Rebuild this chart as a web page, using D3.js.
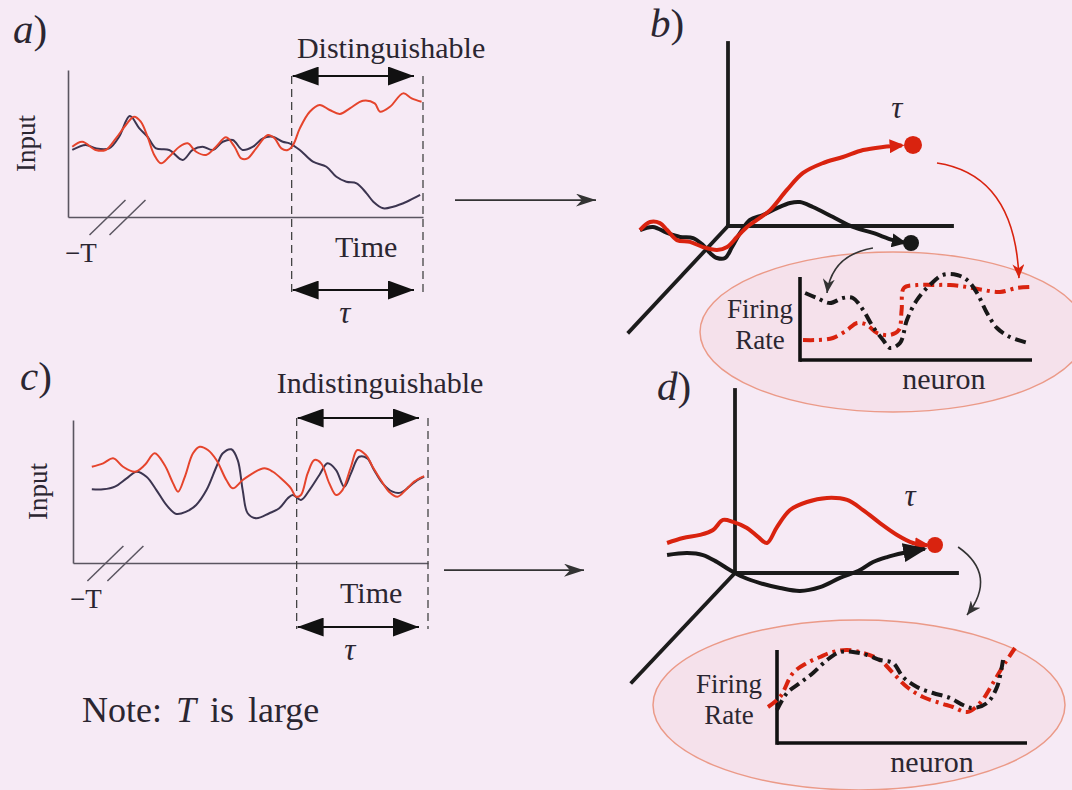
<!DOCTYPE html>
<html>
<head>
<meta charset="utf-8">
<script src="https://cdn.jsdelivr.net/npm/d3@7"></script>
<style>
  html, body { margin: 0; padding: 0; background: #f6eaf5; }
  svg { display: block; }
  text { font-family: "Liberation Serif", "DejaVu Serif", serif; fill: #2b2631; }
</style>
</head>
<body>
<svg id="fig" width="1072" height="790"></svg>
<script>
// ---------------- data ----------------
// Input traces (time, input), both panels share the 0..100 scale
const aRed = [[1.2,47.8],[4.0,51.2],[7.8,45.6],[10.6,45.6],[13.5,53.5],[16.3,62.6],[18.6,68.2],[20.5,64.8],[22.4,54.6],[24.3,42.2],[26.2,36.5],[28.5,41.0],[31.4,47.8],[33.7,50.1],[36.1,44.4],[38.9,42.2],[41.7,47.8],[44.5,54.2],[46.9,47.8],[48.8,39.9],[50.6,39.9],[53.0,46.7],[56.3,55.8],[58.2,53.5],[60.1,46.7],[61.9,45.6],[63.4,49.0],[65.3,60.3],[68.1,71.6],[70.9,76.2],[73.7,72.8],[76.6,70.1],[79.4,73.9],[83.1,79.1],[86.4,77.3],[87.9,71.6],[90.7,75.0],[94.4,84.1],[96.8,80.7],[99.6,78.4]];
const aDark = [[1.2,45.6],[5.0,49.0],[7.8,46.7],[11.6,46.7],[14.4,54.6],[17.4,68.7],[20.1,60.3],[22.4,54.6],[24.8,46.7],[28.5,45.6],[32.3,38.8],[35.1,45.6],[37.9,47.8],[40.8,45.6],[43.6,51.2],[46.4,52.4],[49.2,45.6],[52.1,47.8],[54.9,53.5],[57.7,54.6],[60.5,51.2],[62.4,50.1],[65.3,45.6],[69.0,37.6],[72.8,34.2],[75.6,27.4],[78.4,24.0],[81.3,22.9],[84.1,16.1],[86.0,10.4],[88.8,5.9],[91.6,7.0],[95.4,10.4],[99.2,15.0]];
const cRed = [[5.3,67.3],[8.5,69.7],[11.3,73.2],[14.1,67.3],[17.4,63.8],[20.2,68.5],[23.0,76.7],[25.8,68.5],[28.2,55.7],[29.6,49.9],[31.5,60.3],[33.8,76.7],[35.7,81.3],[38.0,79.0],[40.4,72.0],[43.2,58.0],[45.0,52.2],[47.8,58.0],[50.6,62.7],[53.9,66.2],[56.3,63.8],[59.1,58.0],[61.4,52.2],[62.8,46.4],[64.2,47.6],[66.1,62.7],[68.0,72.0],[69.9,69.7],[72.2,55.7],[74.1,47.6],[75.9,51.0],[78.3,67.3],[80.1,79.0],[82.5,75.5],[84.4,67.3],[86.7,58.0],[89.0,49.9],[91.4,46.4],[93.7,51.0],[96.1,56.9],[98.9,60.8]];
const cDark = [[5.3,51.5],[8.5,51.5],[11.8,53.4],[15.1,59.2],[17.9,63.8],[20.7,60.3],[23.5,51.0],[26.3,40.6],[29.1,34.3],[31.9,35.9],[34.7,40.6],[37.6,51.0],[40.4,67.3],[42.2,76.7],[44.6,79.5],[46.4,72.0],[47.8,51.0],[49.2,34.8],[51.6,31.3],[55.3,34.8],[58.1,38.3],[60.5,45.2],[61.9,47.6],[64.2,44.1],[66.6,51.0],[69.4,61.5],[71.7,69.7],[74.1,65.0],[76.4,53.4],[78.3,62.7],[80.6,74.3],[82.9,73.2],[84.8,65.0],[87.2,55.7],[90.0,49.9],[92.3,49.2],[94.7,53.4],[97.0,58.0],[98.9,60.3]];
const windowStart = 63;   // start of the tau window (time units)
const windowEnd = 100;

// State-space trajectories (x, y) and end points
const bTrajRed = [[-39.3,-2.2],[-34.8,2.2],[-30.4,1.6],[-27.2,-2.2],[-22.8,-7.7],[-17.0,-8.7],[-11.2,-11.5],[-4.9,-13.1],[-0.4,-11.5],[4.0,-6.0],[8.5,-0.5],[12.9,3.3],[18.8,8.7],[26.3,19.7],[33.5,29.0],[42.4,34.4],[51.3,37.7],[60.3,41.5],[69.2,43.2],[77.5,44.0]];
const bTrajBlack = [[-39.3,-2.2],[-33.5,-0.5],[-27.2,-3.8],[-21.4,-6.0],[-15.6,-6.6],[-11.2,-10.4],[-8.0,-14.8],[-4.9,-17.5],[-1.3,-17.5],[1.8,-11.5],[5.4,-3.8],[9.8,3.3],[15.6,6.0],[21.9,9.8],[27.7,12.6],[32.1,13.1],[37.9,10.4],[46.9,4.9],[55.8,-0.5],[64.7,-3.8],[73.7,-7.7],[78.5,-9.0]];
const bEndRed = [82.6, 44.3];
const bEndBlack = [81.7, -9.3];
const dTrajRed = [[-30.6,16.4],[-23.4,19.1],[-15.8,20.8],[-9.9,23.5],[-5.4,29.0],[-0.9,27.9],[5.4,24.6],[10.4,19.7],[14.4,16.4],[18.9,25.1],[24.8,34.4],[32.4,38.8],[41.4,41.0],[50.5,39.9],[57.7,34.4],[65.3,27.3],[73.0,20.8],[80.2,16.4],[86.5,15.2]];
const dTrajBlack = [[-30.6,9.8],[-21.6,10.9],[-14.4,9.8],[-8.1,6.0],[-2.3,1.6],[3.6,-2.2],[11.3,-5.5],[20.3,-8.2],[29.3,-9.8],[38.3,-7.7],[47.3,-2.7],[56.3,1.6],[62.2,6.0],[68.5,8.7],[75.7,10.9],[85.5,13.2]];
const dEndRed = [90.1, 15.3];

// Population firing rates (neuron, rate)
const bRateBlack = [[2.2,67],[7.3,62],[12.9,57],[18.5,62],[22.8,62],[27.2,50],[31.5,33],[35.8,20],[38.8,12],[43.1,17],[46.1,40],[50.4,60],[56.0,75],[61.6,85],[67.7,85],[72.0,80],[76.3,67],[80.6,47],[84.9,32],[90.5,23],[98.3,17]];
const bRateRed = [[1.3,20],[7.3,20],[14.2,22],[20.3,30],[24.6,37],[28.9,35],[33.2,27],[38.8,25],[42.6,30],[43.8,50],[44.8,72],[50.4,75],[57.3,75],[64.7,75],[72.0,73],[78.9,70],[86.2,68],[93.5,72],[99.6,73]];
const dRateBlack = [[0,33],[4,50],[9.2,60],[14.4,70],[20,83],[25.2,91],[30.4,91],[36,88],[41.2,83],[46.4,80],[50.4,66],[56,56],[62.4,50],[69.2,45],[74.4,38],[78.4,35],[84,40],[88,56],[90.4,83]];
const dRateRed = [[-3.6,36],[1.2,46],[6.4,70],[12,80],[17.2,86],[22.4,91],[28,93],[34.4,90],[41.2,83],[46.4,70],[52,56],[58.4,46],[65.2,40],[70.4,36],[76,31],[81.2,40],[86.4,60],[91.2,80],[95.2,95]];

// Text
const panelLetters = ["a", "b", "c", "d"];
const windowTitles = ["Distinguishable", "Indistinguishable"];
const axisTitleY = "Input";
const axisTitleX = "Time";
const startLabel = "\u2212T";
const tauLabel = "\u03C4";
const rateTitle = ["Firing", "Rate"];
const neuronTitle = "neuron";

// ---------------- styles ----------------
const RED = "#e5442c";
const DARK = "#3c3550";
const TRAJ_RED = "#d9230f";
const TRAJ_BLACK = "#181818";
const AXIS_GREY = "#5a5560";

const svg = d3.select("#fig");
const defs = svg.append("defs");

function addMarker(id, color, w, h, shape, refX) {
  defs.append("marker")
    .attr("id", id)
    .attr("viewBox", "0 0 10 10")
    .attr("preserveAspectRatio", "none")
    .attr("refX", refX).attr("refY", 5)
    .attr("markerUnits", "userSpaceOnUse")
    .attr("markerWidth", w).attr("markerHeight", h)
    .attr("orient", "auto-start-reverse")
    .append("path").attr("d", shape).attr("fill", color);
}
const TRI = "M0,0L10,5L0,10Z";
const STEALTH = "M0,0L10,5L0,10L3,5Z";
addMarker("bigHead", "#111", 26, 19, TRI, 10);
addMarker("thinHead", "#333", 20, 13, STEALTH, 10);
addMarker("redHead", TRAJ_RED, 15, 14, TRI, 8);
addMarker("blackHead", TRAJ_BLACK, 15, 14, TRI, 8);
addMarker("blackHeadBig", TRAJ_BLACK, 24, 19, TRI, 9);
addMarker("curveRed", TRAJ_RED, 14, 12, STEALTH, 10);
addMarker("curveDark", "#333", 14, 12, STEALTH, 10);

function panelLetter(x, y, letter) {
  const t = svg.append("text").attr("x", x).attr("y", y).attr("font-size", 41);
  t.append("tspan").attr("font-style", "italic").text(letter);
  t.append("tspan").text(")");
}

// ---------------- input panels (a, c) ----------------
function inputPanel(cfg) {
  const g = svg.append("g");
  const x = d3.scaleLinear().domain([0, 100]).range(cfg.xRange);
  const y = d3.scaleLinear().domain([0, 100]).range(cfg.yRange);

  g.append("g").attr("transform", `translate(0,${y(0)})`)
    .call(d3.axisBottom(x).tickValues([]).tickSizeOuter(0))
    .select(".domain").attr("stroke", AXIS_GREY).attr("stroke-width", 1.6);
  g.append("g").attr("transform", `translate(${x(0)},0)`)
    .call(d3.axisLeft(y).tickValues([]).tickSizeOuter(0))
    .select(".domain").attr("stroke", AXIS_GREY).attr("stroke-width", 1.6);

  // axis break marks
  [0, 1].forEach(i => {
    const bx = x(cfg.breakAt) + i * 20;
    g.append("line")
      .attr("x1", bx - 14).attr("y1", y(0) + 18)
      .attr("x2", bx + 22).attr("y2", y(0) - 17)
      .attr("stroke", AXIS_GREY).attr("stroke-width", 1.5);
  });

  // tau window
  [windowStart, windowEnd].forEach(t => {
    g.append("line")
      .attr("x1", x(t)).attr("x2", x(t))
      .attr("y1", cfg.topArrowY).attr("y2", cfg.bottomArrowY + 2)
      .attr("stroke", "#444").attr("stroke-width", 1.3)
      .attr("stroke-dasharray", "8,5");
  });
  [cfg.topArrowY, cfg.bottomArrowY].forEach(ay => {
    g.append("line")
      .attr("x1", x(windowStart) + 1).attr("x2", x(windowEnd) - 9)
      .attr("y1", ay).attr("y2", ay)
      .attr("stroke", "#111").attr("stroke-width", 2)
      .attr("marker-start", "url(#bigHead)").attr("marker-end", "url(#bigHead)");
  });

  const line = d3.line().x(d => x(d[0])).y(d => y(d[1])).curve(d3.curveCatmullRom.alpha(0.5));
  g.append("path").datum(cfg.dark).attr("d", line)
    .attr("fill", "none").attr("stroke", DARK).attr("stroke-width", 2);
  g.append("path").datum(cfg.red).attr("d", line)
    .attr("fill", "none").attr("stroke", RED).attr("stroke-width", 2);

  // labels
  g.append("text").attr("x", x(cfg.titleAt)).attr("y", cfg.titleY)
    .attr("text-anchor", "middle").attr("font-size", 30).text(cfg.title);
  g.append("text").attr("x", x(84)).attr("y", y(0) + 40)
    .attr("text-anchor", "middle").attr("font-size", 30).text(axisTitleX);
  g.append("text").attr("x", x(0) - 3).attr("y", y(0) + 45)
    .attr("font-size", 27).text(startLabel);
  g.append("text").attr("x", x(78)).attr("y", cfg.bottomArrowY + 33)
    .attr("text-anchor", "middle").attr("font-size", 31).attr("font-style", "italic").text(tauLabel);
  g.append("text")
    .attr("transform", `translate(${x(0) - cfg.inputOffset},${y(50)}) rotate(-90)`)
    .attr("text-anchor", "middle").attr("font-size", 27).text(axisTitleY);

  // arrow towards the state-space view
  g.append("line")
    .attr("x1", cfg.arrow[0]).attr("x2", cfg.arrow[1])
    .attr("y1", y(cfg.arrowLevel)).attr("y2", y(cfg.arrowLevel))
    .attr("stroke", "#333").attr("stroke-width", 1.6)
    .attr("marker-end", "url(#thinHead)");
}

inputPanel({
  xRange: [68, 423], yRange: [217, 70], red: aRed, dark: aDark,
  title: windowTitles[0], titleAt: 91, titleY: 58, topArrowY: 76, bottomArrowY: 290,
  breakAt: 10, inputOffset: 33, arrow: [455, 596], arrowLevel: 11.5
});
inputPanel({
  xRange: [73, 428], yRange: [563, 420], red: cRed, dark: cDark,
  title: windowTitles[1], titleAt: 86.5, titleY: 393, topArrowY: 418, bottomArrowY: 627,
  breakAt: 8, inputOffset: 26, arrow: [444, 584], arrowLevel: -5
});

panelLetter(13, 43, panelLetters[0]);
panelLetter(20, 390, panelLetters[2]);

const note = svg.append("text").attr("x", 82).attr("y", 722)
  .attr("font-size", 36).attr("word-spacing", 5);
note.append("tspan").text("Note: ");
note.append("tspan").attr("font-style", "italic").text("T");
note.append("tspan").text(" is large");

// ---------------- state-space panels (b, d) ----------------
function statePanel(cfg) {
  const g = svg.append("g");
  const x = d3.scaleLinear().domain([0, 100]).range(cfg.xRange);
  const y = d3.scaleLinear().domain([0, 100]).range(cfg.yRange);

  // population read-out bubble
  g.append("ellipse")
    .attr("cx", cfg.bubble[0]).attr("cy", cfg.bubble[1])
    .attr("rx", cfg.bubble[2]).attr("ry", cfg.bubble[3])
    .attr("fill", "#f5e1eb").attr("stroke", "#eb9a88").attr("stroke-width", 1.5);

  // three state axes
  const axisPts = [[[0, 0], [0, cfg.yTop]], [[0, 0], [100, 0]], [[0, 0], cfg.zEnd]];
  axisPts.forEach(p => {
    g.append("line")
      .attr("x1", x(p[0][0])).attr("y1", y(p[0][1]))
      .attr("x2", x(p[1][0])).attr("y2", y(p[1][1]))
      .attr("stroke", "#1c1c1c").attr("stroke-width", 3.8).attr("stroke-linecap", "square");
  });

  const line = d3.line().x(d => x(d[0])).y(d => y(d[1])).curve(d3.curveCatmullRom.alpha(0.5));
  cfg.trajs.forEach(t => {
    g.append("path").datum(t.data).attr("d", line)
      .attr("fill", "none").attr("stroke", t.color).attr("stroke-width", 4)
      .attr("stroke-linejoin", "round")
      .attr("marker-end", `url(#${t.head})`);
  });
  cfg.ends.forEach(e => {
    g.append("circle").attr("cx", x(e.p[0])).attr("cy", y(e.p[1])).attr("r", e.r).attr("fill", e.color);
  });

  g.append("text").attr("x", x(cfg.tauAt[0])).attr("y", y(cfg.tauAt[1]))
    .attr("text-anchor", "middle").attr("font-size", 31).attr("font-style", "italic").text(tauLabel);

  // curved arrows from end states to the firing-rate plot
  cfg.curves.forEach(c => {
    const p = d3.path();
    p.moveTo(x(c.pts[0][0]), y(c.pts[0][1]));
    p.quadraticCurveTo(x(c.pts[1][0]), y(c.pts[1][1]), x(c.pts[2][0]), y(c.pts[2][1]));
    g.append("path").attr("d", p.toString()).attr("fill", "none")
      .attr("stroke", c.color).attr("stroke-width", 1.6)
      .attr("marker-end", `url(#${c.head})`);
  });

  // firing-rate plot
  const n = d3.scaleLinear().domain([0, 100]).range(cfg.nRange);
  const r = d3.scaleLinear().domain([0, 100]).range(cfg.rRange);
  g.append("line").attr("x1", n(0)).attr("x2", n(100)).attr("y1", r(0)).attr("y2", r(0))
    .attr("stroke", "#111").attr("stroke-width", 3.6);
  g.append("line").attr("x1", n(0)).attr("x2", n(0)).attr("y1", r(0) + 1.8).attr("y2", r(cfg.rTop))
    .attr("stroke", "#111").attr("stroke-width", 3.6);
  const rline = d3.line().x(d => n(d[0])).y(d => r(d[1])).curve(d3.curveCatmullRom.alpha(0.5));
  cfg.rates.forEach(s => {
    g.append("path").datum(s.data).attr("d", rline)
      .attr("fill", "none").attr("stroke", s.color).attr("stroke-width", 4)
      .attr("stroke-dasharray", "11,5,3,5");
  });
  // two-line axis title
  g.append("text").attr("x", cfg.rateLabelX).attr("y", cfg.rateLabelY)
    .attr("text-anchor", "middle").attr("font-size", 27).text(rateTitle[0]);
  g.append("text").attr("x", cfg.rateLabelX).attr("y", cfg.rateLabelY + 31)
    .attr("text-anchor", "middle").attr("font-size", 27).text(rateTitle[1]);
  g.append("text").attr("x", n(62)).attr("y", r(0) + 29)
    .attr("text-anchor", "middle").attr("font-size", 30).text(neuronTitle);
}

statePanel({
  xRange: [728, 952], yRange: [226, 43], yTop: 100, zEnd: [-44.2, -57.9],
  bubble: [893, 332, 193, 80],
  trajs: [
    { data: bTrajBlack, color: TRAJ_BLACK, head: "blackHead" },
    { data: bTrajRed, color: TRAJ_RED, head: "redHead" }
  ],
  ends: [
    { p: bEndBlack, r: 8, color: TRAJ_BLACK },
    { p: bEndRed, r: 9, color: TRAJ_RED }
  ],
  tauAt: [75.4, 59],
  curves: [
    { pts: [[93.3, 34.4], [128.1, 27.9], [129.9, -28.5]], color: TRAJ_RED, head: "curveRed" },
    { pts: [[64.7, -12.0], [46.4, -15.8], [44.2, -36.6]], color: "#333", head: "curveDark" }
  ],
  nRange: [800, 1032], rRange: [360, 260], rTop: 83,
  rates: [
    { data: bRateRed, color: TRAJ_RED },
    { data: bRateBlack, color: TRAJ_BLACK }
  ],
  rateLabelX: 760, rateLabelY: 318
});

statePanel({
  xRange: [735, 957], yRange: [573, 390], yTop: 100, zEnd: [-46.4, -59.6],
  bubble: [859, 705, 206, 85],
  trajs: [
    { data: dTrajRed, color: TRAJ_RED, head: "redHead" },
    { data: dTrajBlack, color: TRAJ_BLACK, head: "blackHeadBig" }
  ],
  ends: [
    { p: dEndRed, r: 8, color: TRAJ_RED }
  ],
  tauAt: [78.8, 36.6],
  curves: [
    { pts: [[100.5, 14.2], [118.5, -1.1], [104.5, -23.0]], color: "#333", head: "curveDark" }
  ],
  nRange: [777, 1027], rRange: [743, 643], rTop: 93,
  rates: [
    { data: dRateRed, color: TRAJ_RED },
    { data: dRateBlack, color: TRAJ_BLACK }
  ],
  rateLabelX: 729, rateLabelY: 693
});

panelLetter(650, 37, panelLetters[1]);
panelLetter(657, 400, panelLetters[3]);
</script>
</body>
</html>
